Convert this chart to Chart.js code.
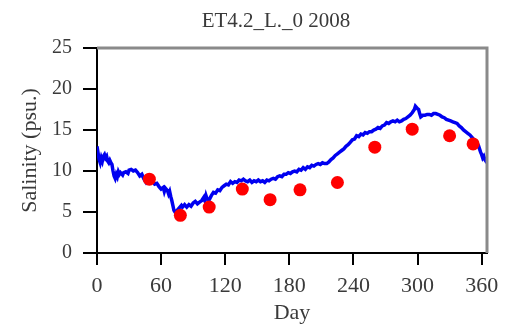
<!DOCTYPE html>
<html>
<head>
<meta charset="utf-8">
<script src="https://cdn.jsdelivr.net/npm/chart.js@4"></script>
<style>
  html, body { margin: 0; padding: 0; background: #fff; }
  #wrap { width: 510px; height: 326px; }
</style>
</head>
<body>
<div id="wrap"><canvas id="salChart"></canvas></div>
<script>
const chartTitle = "ET4.2_L._0 2008";

// continuous salinity record
const lineDays = [0, 1, 2, 3, 4, 5, 6, 7, 8, 9, 10, 11, 12, 13, 14, 15, 16, 17, 18, 19, 20, 21, 22, 24, 25, 27, 29, 30, 32, 34, 36, 38, 40, 42, 44, 46, 48, 50, 52, 54, 56, 58, 60, 62, 63, 64, 66, 67, 68, 69, 70, 71, 72, 73, 75, 77, 79, 80, 82, 84, 86, 88, 90, 92, 94, 96, 98, 100, 101, 102, 103, 105, 107, 109, 111, 113, 115, 117, 119, 121, 123, 125, 127, 129, 131, 133, 135, 137, 139, 141, 143, 145, 147, 149, 151, 153, 155, 157, 159, 161, 163, 165, 167, 169, 171, 173, 175, 177, 179, 181, 183, 185, 187, 189, 191, 193, 195, 197, 199, 201, 203, 205, 207, 209, 211, 213, 215, 217, 219, 221, 223, 225, 227, 229, 231, 233, 235, 237, 239, 241, 243, 245, 247, 249, 251, 253, 255, 257, 259, 261, 263, 265, 267, 269, 271, 273, 275, 277, 279, 281, 283, 285, 287, 289, 291, 293, 295, 297, 298, 300, 301, 302, 303, 305, 307, 309, 311, 313, 315, 317, 319, 321, 323, 325, 327, 329, 331, 333, 335, 337, 339, 341, 343, 345, 347, 349, 351, 353, 355, 357, 358, 359, 360, 361, 362, 363, 364, 365];
const lineSal = [13.0, 12.2, 11.4, 11.0, 11.6, 11.2, 11.8, 12.0, 11.6, 11.8, 11.2, 11.0, 11.3, 11.0, 10.8, 10.0, 9.4, 9.1, 9.6, 9.3, 9.9, 9.6, 9.8, 9.5, 9.8, 9.9, 9.7, 10.1, 10.2, 10.0, 10.1, 9.8, 9.4, 9.6, 9.0, 8.6, 8.9, 8.7, 8.8, 8.4, 8.5, 8.1, 7.8, 8.0, 7.5, 7.9, 7.6, 7.2, 7.5, 6.9, 6.4, 5.8, 5.2, 5.0, 5.2, 5.5, 5.8, 5.6, 5.9, 5.6, 5.9, 5.7, 6.1, 6.3, 6.0, 6.2, 6.4, 6.8, 6.4, 7.0, 6.6, 6.5, 7.0, 7.4, 7.3, 7.7, 7.6, 8.0, 8.2, 8.4, 8.3, 8.7, 8.5, 8.7, 8.6, 8.9, 8.8, 9.0, 8.8, 8.7, 8.9, 8.6, 8.8, 8.7, 8.9, 8.7, 8.8, 8.6, 8.9, 8.8, 9.0, 9.1, 9.0, 9.3, 9.4, 9.3, 9.6, 9.6, 9.8, 9.7, 9.9, 10.0, 9.9, 10.2, 10.1, 10.4, 10.2, 10.5, 10.4, 10.7, 10.6, 10.8, 10.9, 10.8, 11.0, 10.9, 10.9, 11.1, 11.4, 11.6, 11.9, 12.1, 12.3, 12.5, 12.7, 13.0, 13.2, 13.5, 13.8, 13.9, 14.3, 14.2, 14.5, 14.4, 14.7, 14.6, 14.8, 14.8, 15.0, 15.1, 15.3, 15.2, 15.5, 15.6, 15.9, 15.8, 16.0, 16.1, 16.0, 16.2, 16.0, 16.1, 16.3, 16.4, 16.6, 16.8, 17.1, 17.5, 17.9, 17.6, 17.5, 17.0, 16.6, 16.8, 16.8, 16.9, 16.9, 16.8, 17.0, 17.0, 16.9, 16.8, 16.6, 16.5, 16.3, 16.2, 16.1, 16.0, 15.9, 15.8, 15.5, 15.3, 15.0, 14.8, 14.6, 14.4, 14.1, 13.8, 13.5, 13.1, 12.7, 12.3, 12.0, 11.6, 11.8, 11.4, 11.2, 11.3];

// discrete samples (red dots)
const sampleDays = [49, 78, 105, 136, 162, 190, 225, 260, 295, 330, 352];
const sampleSal = [9.0, 4.6, 5.6, 7.8, 6.5, 7.7, 8.6, 12.9, 15.1, 14.3, 13.3];

const xTicks = [0, 60, 120, 180, 240, 300, 360];
const yTicks = [0, 5, 10, 15, 20, 25];

const serif = "'Liberation Serif', 'Times New Roman', serif";
const txt = "#3a3a3a";

// title + grey top/right frame
const framePlugin = {
  id: "frame",
  afterDraw(chart) {
    const { ctx, chartArea: a } = chart;
    ctx.save();
    ctx.strokeStyle = "#8a8a8a";
    ctx.lineWidth = 3;
    ctx.beginPath();
    ctx.moveTo(a.left, a.top);
    ctx.lineTo(a.right, a.top);
    ctx.lineTo(a.right, a.bottom);
    ctx.stroke();
    ctx.fillStyle = txt;
    ctx.font = "21px " + serif;
    ctx.textAlign = "center";
    ctx.textBaseline = "middle";
    ctx.fillText(chartTitle, 276, 21);
    ctx.restore();
  }
};

new Chart(document.getElementById("salChart"), {
  type: "line",
  data: {
    datasets: [
      {
        label: "Samples",
        data: sampleDays.map((d, i) => ({ x: d, y: sampleSal[i] })),
        showLine: false,
        pointRadius: 6.5,
        pointBackgroundColor: "#ff0000",
        pointBorderWidth: 0,
        order: 1,
      },
      {
        label: "Salinity",
        data: lineDays.map((d, i) => ({ x: d, y: lineSal[i] })),
        borderColor: "#0000f0",
        borderWidth: 3.5,
        pointRadius: 0,
        tension: 0,
        order: 2,
      },
    ],
  },
  options: {
    responsive: true,
    maintainAspectRatio: false,
    animation: false,
    layout: { padding: { left: 0, right: 23, top: 48, bottom: 0 } },
    plugins: {
      legend: { display: false },
      tooltip: { enabled: false },
      title: { display: false },
    },
    scales: {
      x: {
        type: "linear",
        min: 0,
        max: 365,
        afterBuildTicks: (axis) => { axis.ticks = xTicks.map(v => ({ value: v })); },
        afterFit: (axis) => { axis.height = 73; },
        ticks: { font: { family: serif, size: 22 }, color: txt, padding: 8, maxRotation: 0 },
        grid: { drawOnChartArea: false, color: "#000", lineWidth: 2, tickLength: 12 },
        border: { color: "#000", width: 2 },
        title: { display: true, text: "Day", font: { family: serif, size: 22 }, color: txt, padding: { top: 0, bottom: 0 } },
      },
      y: {
        min: 0,
        max: 25,
        afterBuildTicks: (axis) => { axis.ticks = yTicks.map(v => ({ value: v })); },
        afterFit: (axis) => { axis.width = 97; },
        ticks: { font: { family: serif, size: 20 }, color: txt, padding: 11 },
        grid: { drawOnChartArea: false, color: "#000", lineWidth: 2, tickLength: 14 },
        border: { color: "#000", width: 2 },
        title: { display: true, text: "Salinity (psu.)", font: { family: serif, size: 22 }, color: txt, padding: { top: 17, bottom: 0 } },
      },
    },
  },
  plugins: [framePlugin],
});
</script>
</body>
</html>
